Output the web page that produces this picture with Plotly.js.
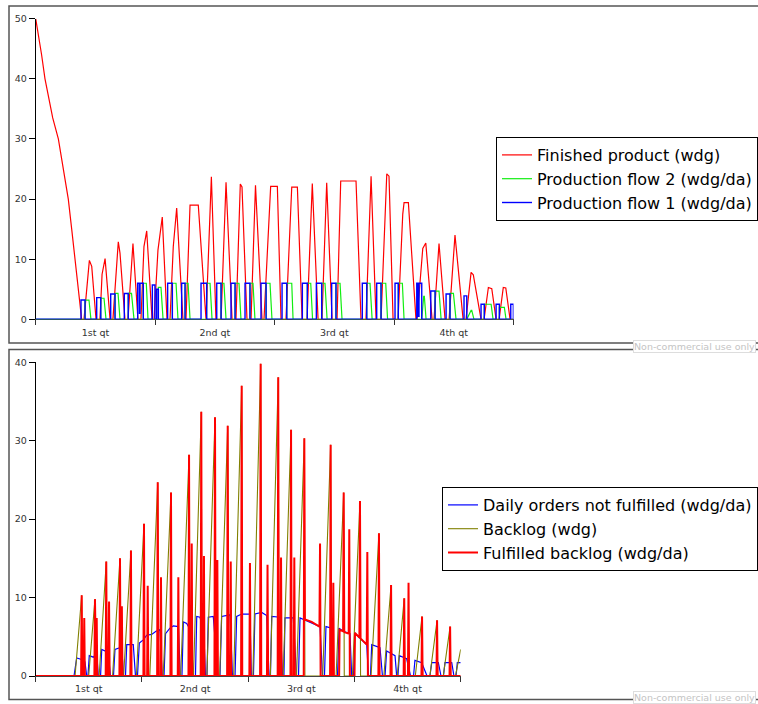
<!DOCTYPE html>
<html>
<head>
<meta charset="utf-8">
<script src="https://cdn.plot.ly/plotly-3.0.1.min.js"></script>
<style>html,body{margin:0;padding:0;background:#fff;}#chart{width:758px;height:704px;}</style>
</head>
<body>
<div id="chart"></div>
<script>
// ---------- DATA (x = day of year) ----------
const qtLabels = ['1st qt', '2nd qt', '3rd qt', '4th qt'];
const qtMid = [45.625, 136.875, 228.125, 319.375];
const qtEdges = [0, 91.25, 182.5, 273.75, 365];

// Top panel
const finished_days = [0,2,4.5,7.1,10,13,17.3,21,24.9,27.5,30,32.5,35.1, 36.9,41,42.8,46.1, 49.1,50.7,53,56.8, 59,63.1,64.4,68.2, 70.5,74.3,78.1, 80.4,82.7,84.8,88.9, 90.4,93.4,96.7,100.3, 102.6,105.1,107.7,112.5, 114.8,117.9,124.2,130.1, 134.2,137.7, 141.6,145.4,150, 153,156.3,157.6,161.4, 164.5,167.9,172.9, 174.4,179.5,184.6,187.4, 191.2,195.6,199.9,203.5, 207.3,211.3,215.7, 218.7,222.3,226.4, 230.2,233,244.7,248.5, 252.3,256.2,260, 263.8,268.2,269.9,273, 276.8,280.4,281.4,284.7,290.5, 291.3,295.7,298,302.8, 304.3,308.1,312.7, 315.8,320.3,326.5, 328.7,332.6,334.3,340.2, 342.5,345.8,348.4,351.7, 354,357.2,359.1,362.4, 365];
const finished_vals = [50,47.5,44,40,36.5,33.5,30,25,20,15,10,6,0, 0,9.8,8.8,0, 0,7.5,10.1,0, 0,12.9,11,0, 0,12.6,0, 0,12.1,14.7,0, 0,11.5,17,0, 0,12.1,18.5,0, 0,19,19,0, 23.7,0, 0,22.8,0, 0,22.5,22,0, 0,22.3,0, 0,22.1,22.1,0, 0,22,22,0, 0,22.6,0, 0,22.7,0, 0,23,23,0, 0,23.8,0, 0,24.2,23.8,0, 0,17.5,19.4,19.4,0, 0,11.8,12.7,0, 0,12.6,0, 0,14,0, 0,7.8,7.4,0, 0,5.3,5.1,0, 0,5.3,5.2,0, 0];

const flow2_days = [0,
 37.7,37.7,40.7,42.2, 49.7,49.7,52.2,53.7, 60.6,60.6,62.9,64.4, 70.7,70.7,73.2,75.1,
 82.2,82.2,84.5,85.8, 93.7,93.7,95.7,97.3, 104.4,104.4,107.2,108.7, 114.1,114.1,116.4,117.9,
 130.6,130.6,133.2,134.7, 141.6,141.6,143.8,145.4, 152.3,152.3,155.3,156.8, 163.7,163.7,166,167.5,
 176,176,179,180.5, 191.8,191.8,195.6,196.6, 207.5,207.5,210.1,211.5, 218.5,218.5,221,222.6,
 229.4,229.4,232.5,234, 252.9,252.9,255.4,257, 263.8,263.8,267.4,268.8, 277,277,280.1,281.4,
 294.9,296.4,296.9,298.2, 305.1,305.1,308.1,309.7, 316.5,316.5,319.1,321.1, 329.3,332.6,333.1,334.8,
 342.7,342.7,347.9,349.4, 354.2,354.2,358,359.3,
 365];
const flow2_vals = [0,
 0,3.2,3.2,0, 0,3.5,3.5,0, 0,4.3,4.3,0, 0,4.3,4.3,0,
 0,6,6,0, 0,5.3,5.3,0, 0,6,6,0, 0,6,6,0,
 0,6,6,0, 0,6,6,0, 0,6,6,0, 0,6,6,0,
 0,6,6,0, 0,6,6,0, 0,6,6,0, 0,6,6,0,
 0,6,6,0, 0,6,6,0, 0,6,6,0, 0,6,6,0,
 0,3.8,3.8,0, 0,4.7,4.7,0, 0,4.3,4.3,0, 0,1.5,1.5,0,
 0,2.5,2.5,0, 0,2,2,0,
 0];

// step series: value holds from each day until the next one
const flow1_days = [0,34.6,37.7,46.6,49.7,57.3,60.6,67.7,70.7,77.9,79.2,79.7,82.2,89.1,91.1,92.4,93.7,100.8,104.4,111.5,114.1,126.3,130.6,138.3,141.6,149.2,152.3,159.9,163.7,172.1,176,188.2,191.8,203.7,207.5,214.4,218.5,226.1,229.4,249.5,252.9,260.5,263.8,274.5,277,291.1,292.1,292.8,294.9,301.8,305.1,313.5,316.5,327.2,329.3,340.2,342.7,351.7,354.2,362.9,364.9,365];
const flow1_vals = [0,3.2,0,3.6,0,4.2,0,4.3,0,6,1,6,0,5.7,0,5,0,6,0,6,0,6,0,6,0,6,0,6,0,6,0,6,0,6,0,6,0,6,0,6,0,6,0,6,0,6,0.5,6,0,4.7,0,4.2,0,3.9,0,2.5,0,2.5,0,2.5,0,0];

// Bottom panel
const orders_days = [0,32.9,35.2,39.5,42.3,43.8,44.9,46.0,49.5,52.4,53.8,55.7,56.7,62.3,64.2,66.8,68.1,73.9,75.4,77.1,78.2,83.8,85.7,87.4,89.0,92.4,95.3,99.6,103.3,106.7,108.7,110.2,111.5,115.3,118.2,122.5,124.2,125.6,126.8,129.7,131.1,132.5,135.5,137.2,138.3,141.1,142.6,143.9,145.8,147.1,148.2,152.5,156.6,158.3,159.7,166.9,169.0,171.2,172.6,176.9,184.0,185.2,187.0,188.3,194.1,198.4,200.4,201.6,202.7,209.8,212.0,213.2,214.1,221.2,224.0,225.7,227.0,235.6,244.2,246.3,248.0,249.3,254.2,255.6,259.2,260.5,264.2,269.9,271.4,272.9,274.2,278.5,284.3,285.8,287.5,288.6,295.7,297.8,300.0,301.4,308.6,310.0,311.1,312.3,318.6,321.9,324.5,325.7,331.5,336.1,338.6,340.1,345.8,348.1,350.2,351.5,357.3,359.2,361.0,362.1,365];
const orders_vals = [0,0,2.3,2.1,1.8,0,0,2.6,2.4,2.9,0,0,3.4,3.0,0,0,3.4,3.7,0,0,4.0,4.0,0,0,4.2,4.6,5.2,5.3,5.7,5.9,0,0,5.4,6.1,6.4,6.3,0,0,6.9,6.7,6.3,6.9,0,0,7.6,7.5,6.5,7.5,0,0,7.5,7.6,0,0,7.6,7.8,0,0,7.6,7.9,7.9,0,0,7.9,8.1,7.7,0,0,7.6,7.5,0,0,7.4,7.4,0,0,7.4,6.8,6.3,0,0,6.3,6.1,0,0,6.1,5.7,5.4,0,0,5.5,4.8,4.0,0,0,4.0,3.6,0,0,3.2,2.6,0,0,2.6,2.2,0,0,2.0,1.7,0,0,1.7,1.7,0,0,1.7,1.7,0,0,1.7,1.7];

const backlog_days = [0,
 33.8,39.5,40.0, 45.5,50.9,51.4, 54.5,60.6,61.1, 66.0,72.4,72.9, 75.5,81.8,82.3,
 86.5,93.0,93.5, 98.0,104.8,105.3, 109.5,116.2,116.7, 124.5,131.7,132.2, 135.5,142.2,142.7,
 147.0,154.0,154.5, 158.0,164.9,165.4, 170.0,176.9,177.4, 186.5,193.2,193.7, 201.5,208.3,208.8,
 212.5,219.3,219.8, 224.0,230.7,231.2, 246.5,253.3,253.8, 258.0,264.5,265.0, 272.0,278.5,279.0,
 288.0,294.8,295.3, 299.0,305.2,305.7, 310.5,316.5,317.0, 326.0,331.8,332.3, 338.5,344.7,345.2,
 350.0,355.9,356.4, 360.5,365];
const backlog_vals = [0,
 0,10.3,0, 0,9.8,0, 0,14.6,0, 0,15.0,0, 0,16.0,0,
 0,19.4,0, 0,24.7,0, 0,23.4,0, 0,28.2,0, 0,33.7,0,
 0,33.0,0, 0,31.9,0, 0,37.0,0, 0,39.8,0, 0,38.1,0,
 0,31.4,0, 0,30.3,0, 0,29.5,0, 0,23.4,0, 0,22.3,0,
 0,18.2,0, 0,11.6,0, 0,9.9,0, 0,7.6,0, 0,7.1,0,
 0,6.3,0, 0,3.4];

const fulfilled_days = [0,
 39.0,39.5,40.0, 41.2,41.7,42.2, 50.4,50.9,51.4, 51.9,52.4,52.9,
 60.1,60.6,61.1, 62.5,63.0,63.5, 71.9,72.4,72.9, 73.5,74.0,74.5,
 81.3,81.8,82.3, 92.5,93.0,93.5, 95.7,96.2,96.7,
 104.3,104.8,105.3, 107.1,107.6,108.1, 115.7,116.2,116.7, 122.0,122.5,123.0,
 131.2,131.7,132.2, 133.5,134.0,134.5, 141.7,142.2,142.7, 144.0,144.5,145.0,
 153.5,154.0,154.5, 155.5,156.0,156.5, 164.4,164.9,165.4, 167.0,167.5,168.0,
 176.4,176.9,177.4, 183.5,184.0,184.5, 192.7,193.2,193.7, 198.6,199.1,199.6,
 207.8,208.3,208.8, 210.2,210.7,211.2, 218.8,219.3,219.8, 221.6,222.1,222.6,
 230.2,230.7,231.2,237.0,243.7,244.2,244.7,
 252.8,253.3,253.8, 255.1,255.6,256.1,
 260.6,261.0,264.0,264.5,265.0,268.8,269.3,269.8,
 273.8,274.2,278.0,278.5,279.0,284.3,284.8,285.3,
 294.3,294.8,295.3, 304.7,305.2,305.7, 316.0,316.5,317.0, 319.7,320.2,320.7,
 331.3,331.8,332.3, 344.2,344.7,345.2, 355.4,355.9,356.4,
 365];
const fulfilled_vals = [0,
 0,10.3,0, 0,7.4,0, 0,9.8,0, 0,7.4,0,
 0,14.6,0, 0,9.5,0, 0,15.0,0, 0,8.9,0,
 0,16.0,0, 0,19.4,0, 0,11.5,0,
 0,24.7,0, 0,12.6,0, 0,23.4,0, 0,12.6,0,
 0,28.2,0, 0,16.9,0, 0,33.7,0, 0,15.3,0,
 0,33.0,0, 0,14.8,0, 0,31.9,0, 0,14.6,0,
 0,37.0,0, 0,14.4,0, 0,39.8,0, 0,14.2,0,
 0,38.1,0, 0,15.1,0, 0,31.4,0, 0,15.1,0,
 0,30.3,7.2,6.9,6.3,16.9,0,
 0,29.5,0, 0,11.9,0,
 0,5.9,5.7,23.4,5.6,5.4,18.7,0,
 0,5.5,4.9,22.3,4.8,4.0,15.8,0,
 0,18.2,0, 0,11.6,0, 0,9.9,0, 0,11.9,0,
 0,7.6,0, 0,7.1,0, 0,6.3,0,
 0];

// ---------- LAYOUT HELPERS ----------
const W = 758, H = 704;
const px = v => v / W;
const py = v => 1 - v / H;

const traces = [
  {x: finished_days, y: finished_vals, name: 'Finished product (wdg)', type: 'scatter', mode: 'lines',
   line: {color: '#ff0000', width: 1.2}, xaxis: 'x', yaxis: 'y', legend: 'legend'},
  {x: flow2_days, y: flow2_vals, name: 'Production flow 2 (wdg/da)', type: 'scatter', mode: 'lines',
   line: {color: '#11ee11', width: 1.2}, xaxis: 'x', yaxis: 'y', legend: 'legend'},
  {x: flow1_days, y: flow1_vals, name: 'Production flow 1 (wdg/da)', type: 'scatter', mode: 'lines',
   line: {color: '#0000ff', width: 1.4, shape: 'hv'}, xaxis: 'x', yaxis: 'y', legend: 'legend'},
  {x: orders_days, y: orders_vals, name: 'Daily orders not fulfilled (wdg/da)', type: 'scatter', mode: 'lines',
   line: {color: '#0000ff', width: 1.2}, xaxis: 'x2', yaxis: 'y2', legend: 'legend2'},
  {x: backlog_days, y: backlog_vals, name: 'Backlog (wdg)', type: 'scatter', mode: 'lines',
   line: {color: '#808000', width: 1.1}, xaxis: 'x2', yaxis: 'y2', legend: 'legend2'},
  {x: fulfilled_days, y: fulfilled_vals, name: 'Fulfilled backlog (wdg/da)', type: 'scatter', mode: 'lines',
   line: {color: '#ff0000', width: 2}, xaxis: 'x2', yaxis: 'y2', legend: 'legend2'}
];

function xAxis(domain, anchor) {
  return {
    domain: domain, anchor: anchor, range: [0, 365], showgrid: false, zeroline: false,
    showline: true, linecolor: '#444', linewidth: 1, layer: 'below traces',
    tickmode: 'array', tickvals: qtMid, ticktext: qtLabels,
    ticks: 'outside', ticklen: 4, tickcolor: 'rgba(0,0,0,0)',
    tickfont: {size: 9.5, color: '#333'},
    minor: {tickmode: 'array', tickvals: qtEdges, ticks: 'outside', ticklen: 5, tickcolor: '#333', tickwidth: 1}
  };
}
function yAxis(domain, anchor, top) {
  return {
    domain: domain, anchor: anchor, range: [0, top], showgrid: false, zeroline: false,
    showline: true, linecolor: '#000', linewidth: 1,
    tickmode: 'linear', tick0: 0, dtick: 10,
    ticks: 'outside', ticklen: 6, tickcolor: '#000',
    tickfont: {size: 9.5, color: '#333'}
  };
}

const layout = {
  width: W, height: H,
  margin: {l: 0, r: 0, t: 0, b: 0, pad: 0},
  paper_bgcolor: '#ffffff', plot_bgcolor: 'rgba(0,0,0,0)',
  font: {family: 'DejaVu Sans, Verdana, sans-serif', size: 9.5, color: '#333'},
  showlegend: true,
  xaxis: xAxis([px(35.7), px(513.5)], 'y'),
  yaxis: yAxis([py(319.3), py(18.7)], 'x', 50),
  xaxis2: xAxis([px(35.7), px(460.7)], 'y2'),
  yaxis2: yAxis([py(676), py(362.3)], 'x2', 40),
  legend: {
    x: px(758), xanchor: 'right', y: py(137), yanchor: 'top',
    bgcolor: '#ffffff', bordercolor: '#000', borderwidth: 1,
    font: {size: 16, color: '#000'}, traceorder: 'normal', itemwidth: 30
  },
  legend2: {
    x: px(758), xanchor: 'right', y: py(487), yanchor: 'top',
    bgcolor: '#ffffff', bordercolor: '#000', borderwidth: 1,
    font: {size: 16, color: '#000'}, traceorder: 'normal', itemwidth: 30
  },
  shapes: [
    {type: 'rect', xref: 'paper', yref: 'paper', x0: px(9), x1: px(800), y0: py(343), y1: py(6),
     line: {color: '#555', width: 1.5}, layer: 'below'},
    {type: 'rect', xref: 'paper', yref: 'paper', x0: px(9), x1: px(800), y0: py(699.5), y1: py(349.5),
     line: {color: '#555', width: 1.5}, layer: 'below'}
  ],
  annotations: [
    {text: 'Non-commercial use only', xref: 'paper', yref: 'paper', x: px(633), y: py(346.5),
     xanchor: 'left', yanchor: 'middle', showarrow: false, font: {size: 9.5, color: '#c4c4c4'},
     bgcolor: '#ffffff', bordercolor: '#dddddd', borderwidth: 1, borderpad: 0},
    {text: 'Non-commercial use only', xref: 'paper', yref: 'paper', x: px(633), y: py(697),
     xanchor: 'left', yanchor: 'middle', showarrow: false, font: {size: 9.5, color: '#c4c4c4'},
     bgcolor: '#ffffff', bordercolor: '#dddddd', borderwidth: 1, borderpad: 0}
  ]
};

Plotly.newPlot('chart', traces, layout, {staticPlot: true, displayModeBar: false});
</script>
</body>
</html>
